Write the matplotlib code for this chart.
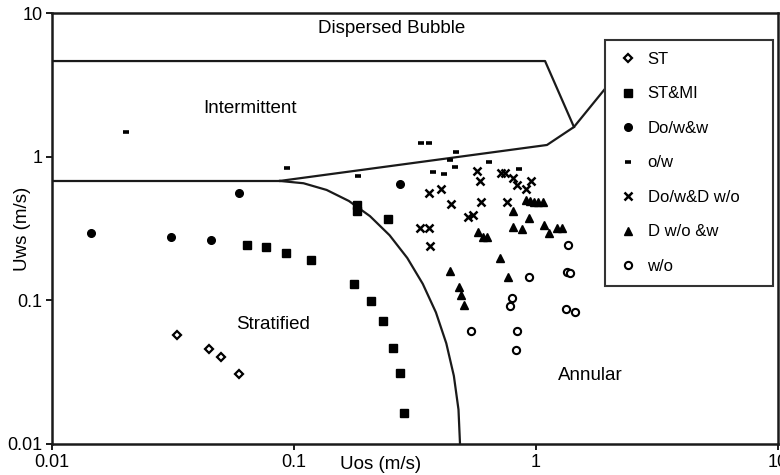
import matplotlib
matplotlib.use("Agg")
import matplotlib.pyplot as plt

plt.rcParams['font.family'] = ['Liberation Sans', 'DejaVu Sans']

# --- datos experimentales (Uos, Uws) en m/s ---
st_x = [0.0328, 0.0447, 0.0498, 0.0594]
st_y = [0.0574, 0.0457, 0.0404, 0.0306]

stmi_x = [0.0641, 0.0764, 0.0927, 0.1176, 0.1827, 0.1827, 0.2438,
          0.1775, 0.2080, 0.2332, 0.2572, 0.2734, 0.2856]
stmi_y = [0.243, 0.234, 0.215, 0.190, 0.461, 0.419, 0.367,
          0.129, 0.0986, 0.0722, 0.0466, 0.0311, 0.0165]

dow_x = [0.01445, 0.0311, 0.0453, 0.0591, 0.2742]
dow_y = [0.293, 0.278, 0.263, 0.556, 0.643]

ow_x = [0.0202, 0.0933, 0.1844, 0.334, 0.362, 0.467, 0.441, 0.463,
        0.374, 0.417, 0.641, 0.853]
ow_y = [1.493, 0.830, 0.734, 1.240, 1.240, 1.083, 0.948, 0.852,
        0.786, 0.754, 0.918, 0.817]

dwd_x = [0.362, 0.332, 0.362, 0.365, 0.405, 0.445, 0.572, 0.587, 0.591,
         0.525, 0.551, 0.715, 0.745, 0.801, 0.832, 0.907, 0.951, 0.757]
dwd_y = [0.556, 0.321, 0.321, 0.240, 0.593, 0.466, 0.799, 0.678, 0.482,
         0.379, 0.393, 0.774, 0.774, 0.708, 0.636, 0.593, 0.678, 0.486]

dwo_x = [0.907, 0.945, 0.981, 1.022, 1.066, 0.801, 0.938, 0.806, 0.873,
         1.079, 1.132, 1.218, 1.277, 0.578, 0.602, 0.629, 0.710, 0.441,
         0.768, 0.481, 0.490, 0.506]
dwo_y = [0.500, 0.494, 0.486, 0.481, 0.481, 0.419, 0.373, 0.326, 0.314,
         0.335, 0.293, 0.318, 0.318, 0.301, 0.278, 0.275, 0.196, 0.161,
         0.146, 0.123, 0.109, 0.093]

wo_x = [1.352, 1.34, 1.38, 0.936, 0.798, 0.781, 1.326, 1.449, 0.537, 0.837, 0.824]
wo_y = [0.243, 0.157, 0.155, 0.146, 0.103, 0.092, 0.087, 0.083, 0.061, 0.061, 0.045]

# --- fronteras de regimen ---
bubble_x = [0.01, 1.09, 1.435]
bubble_y = [4.63, 4.63, 1.609]

strat_x = [0.01, 0.0875]
strat_y = [0.678, 0.678]

inter_x = [0.0875, 1.11, 1.435, 2.0]
inter_y = [0.678, 1.206, 1.609, 3.2]

annular_x = [0.0875, 0.1095, 0.1364, 0.1686, 0.2061, 0.2483, 0.2938,
             0.3405, 0.3859, 0.4259, 0.4577, 0.4783, 0.4853]
annular_y = [0.6775, 0.653, 0.5866, 0.4915, 0.3854, 0.2838, 0.1972,
             0.1302, 0.0824, 0.0502, 0.0298, 0.01736, 0.01]

fig = plt.figure(figsize=(7.8, 4.75), dpi=100)
ax = fig.add_axes([52 / 780, 31 / 475, 726 / 780, 431 / 475])
ax.set_xscale('log')
ax.set_yscale('log')
ax.set_xlim(0.01, 10)
ax.set_ylim(0.01, 10)

lc = '#1a1a1a'
for bx, by in [(bubble_x, bubble_y), (strat_x, strat_y),
               (inter_x, inter_y), (annular_x, annular_y)]:
    ax.plot(bx, by, color=lc, lw=1.6, zorder=2)

ax.plot(st_x, st_y, ls='none', marker='D', ms=4.2, mfc='white', mec='black',
        mew=1.6, label='ST', zorder=3)
ax.plot(stmi_x, stmi_y, ls='none', marker='s', ms=6.2, color='black',
        label='ST&MI', zorder=3)
ax.plot(dow_x, dow_y, ls='none', marker='o', ms=5.5, color='black',
        label='Do/w&w', zorder=3)
ax.plot(ow_x, ow_y, ls='none', marker='_', ms=4.5, mew=2.6, color='black',
        label='o/w', zorder=3)
ax.plot(dwd_x, dwd_y, ls='none', marker='x', ms=6, mew=1.8, color='black',
        label='Do/w&D w/o', zorder=3)
ax.plot(dwo_x, dwo_y, ls='none', marker='^', ms=6.2, color='black',
        label='D w/o &w', zorder=3)
ax.plot(wo_x, wo_y, ls='none', marker='o', ms=5.2, mfc='white', mec='black',
        mew=1.5, label='w/o', zorder=3)

# etiquetas de regimen
tfs = 13.5
ax.text(0.254, 7.74, 'Dispersed Bubble', fontsize=tfs, ha='center', va='center')
ax.text(0.0658, 2.18, 'Intermittent', fontsize=tfs, ha='center', va='center')
ax.text(0.0823, 0.0675, 'Stratified', fontsize=tfs, ha='center', va='center')
ax.text(1.67, 0.0298, 'Annular', fontsize=tfs, ha='center', va='center')

ax.set_xticks([0.01, 0.1, 1, 10])
ax.set_xticklabels(['0.01', '0.1', '1', '10'])
ax.set_yticks([0.01, 0.1, 1, 10])
ax.set_yticklabels(['0.01', '0.1', '1', '10'])
ax.minorticks_off()
ax.tick_params(labelsize=13, length=4, width=1.4, pad=3, color=lc)
for s in ax.spines.values():
    s.set_linewidth(1.8)
    s.set_color(lc)

ax.set_xlabel('Uos (m/s)', fontsize=13.5)
ax.xaxis.set_label_coords(0.452, -0.027)
ax.set_ylabel('Uws (m/s)', fontsize=13.5)
ax.yaxis.set_label_coords(-0.029, 0.5)

leg = ax.legend(loc='upper left', bbox_to_anchor=(605 / 780, 430 / 475, 168 / 780, 0.01),
                bbox_transform=fig.transFigure, mode='expand', borderaxespad=0,
                fontsize=12, numpoints=1, handlelength=1.4, handletextpad=0.45,
                borderpad=0.7, labelspacing=1.17, fancybox=False, framealpha=1)
leg.get_frame().set_edgecolor('#333333')
leg.get_frame().set_linewidth(1.5)

fig.savefig('out.png', dpi=100)
